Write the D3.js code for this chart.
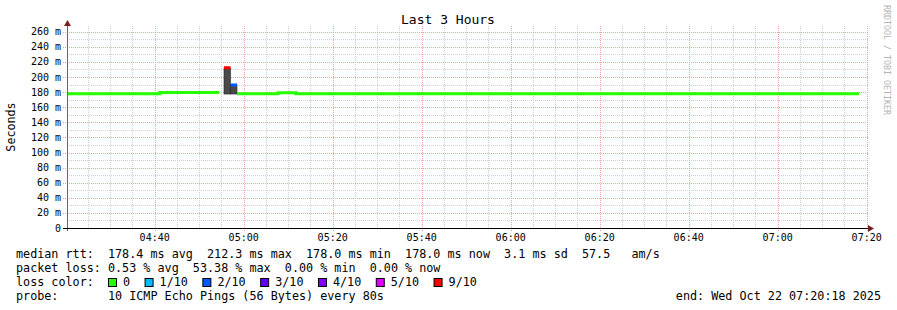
<!DOCTYPE html>
<html>
<head>
<meta charset="utf-8">
<script src="https://cdn.jsdelivr.net/npm/d3@7"></script>
<style>
body { margin: 0; background: #fff; }
svg text { font-family: "DejaVu Sans Mono", monospace; white-space: pre; fill: #000; }
</style>
</head>
<body>
<script>
// --- data ---
const day = "2025-10-22 ";
const timeStart = "04:20:18";
const timeEnd = "07:20:18";
// step boundaries (each step runs until the next one)
const stepStart = ["04:20:18", "04:41:12", "04:54:27", "04:55:35", "04:57:02", "04:58:30", "05:07:43", "05:11:46", "07:18:16"];
const medianMs  = [178.0, 179.5, null, 212.3, 189.5, 178.0, 179.3, 178.0];
const lossPings = [0, 0, null, 9, 2, 0, 0, 0];
const smokeLo   = [null, null, null, 177.5, 177.5, null, null, null];
const smokeHi   = [null, null, null, 212.3, 189.5, null, null, null];

const lossLabels = ["0", "1/10", "2/10", "3/10", "4/10", "5/10", "9/10"];
const lossColors = ["#26ff00", "#00b8ff", "#0059ff", "#5e00ff", "#7e00ff", "#dd00ff", "#ff0000"];
const lossLevels = [0, 1, 2, 3, 4, 5, 9];

const legendLines = [
    "median rtt:  178.4 ms avg  212.3 ms max  178.0 ms min  178.0 ms now  3.1 ms sd  57.5   am/s",
    "packet loss: 0.53 % avg  53.38 % max  0.00 % min  0.00 % now"
];
const probeText = "probe:       10 ICMP Echo Pings (56 Bytes) every 80s";
const endText = "end: Wed Oct 22 07:20:18 2025";

const W = 897, H = 310;
const parse = d3.timeParse("%Y-%m-%d %H:%M:%S");
const t = s => parse(day + s);

const svg = d3.select("body").append("svg")
    .attr("width", W).attr("height", H)
    .style("display", "block");

svg.append("rect").attr("width", W).attr("height", H).attr("fill", "#fff");

// scales
const x = d3.scaleTime().domain([t(timeStart), t(timeEnd)]).range([67, 868]);
const y = d3.scaleLinear().domain([0, 267.6]).range([228, 26]);

const plotTop = 26, plotBottom = 228;

// grid
const grid = svg.append("g").attr("shape-rendering", "crispEdges");
const minorY = d3.range(10, 268, 20);
const majorY = d3.range(20, 268, 20);
grid.selectAll(".hmin").data(minorY).enter().append("line")
    .attr("x1", 67).attr("x2", 868)
    .attr("y1", d => Math.round(y(d)) + 0.5).attr("y2", d => Math.round(y(d)) + 0.5)
    .attr("stroke", "#cfcfcf").attr("stroke-dasharray", "1,1");

const minorX = d3.timeMinute.every(5).range(t(timeStart), t(timeEnd)).filter(d => d.getMinutes() % 20 !== 0);
const majorX = d3.timeMinute.every(20).range(t(timeStart), t(timeEnd));
grid.selectAll(".vmin").data(minorX).enter().append("line")
    .attr("x1", d => Math.round(x(d)) + 0.5).attr("x2", d => Math.round(x(d)) + 0.5)
    .attr("y1", plotTop).attr("y2", plotBottom + 2)
    .attr("stroke", "#cfcfcf").attr("stroke-dasharray", "1,1");

grid.selectAll(".hmaj").data(majorY).enter().append("line")
    .attr("x1", 63).attr("x2", 868)
    .attr("y1", d => Math.round(y(d)) + 0.5).attr("y2", d => Math.round(y(d)) + 0.5)
    .attr("stroke", "#f2a0a0").attr("stroke-dasharray", "1,1");
grid.selectAll(".vmaj").data(majorX).enter().append("line")
    .attr("x1", d => Math.round(x(d)) + 0.5).attr("x2", d => Math.round(x(d)) + 0.5)
    .attr("y1", plotTop).attr("y2", plotBottom + 3)
    .attr("stroke", "#f2a0a0").attr("stroke-dasharray", "1,1");

// steps
const steps = medianMs.map((m, i) => ({
    x0: t(stepStart[i]), x1: t(stepStart[i + 1]),
    median: m, loss: lossPings[i], lo: smokeLo[i], hi: smokeHi[i]
}));

// smoke
svg.append("g").selectAll("rect")
    .data(steps.filter(d => d.lo != null))
    .enter().append("rect")
    .attr("x", d => x(d.x0)).attr("width", d => x(d.x1) - x(d.x0))
    .attr("y", d => y(d.hi)).attr("height", d => y(d.lo) - y(d.hi))
    .attr("fill", "#4a4a4a")
    .attr("stroke", "#222").attr("stroke-width", 0.6);

// median line, coloured by loss, broken where the loss colour changes
function lossColor(l) {
    let c = lossColors[0];
    lossLevels.forEach((v, i) => { if (l >= v) c = lossColors[i]; });
    return c;
}
const runs = [];
steps.forEach(d => {
    if (d.median == null) { runs.push(null); return; }
    const last = runs[runs.length - 1];
    if (last && last.loss === d.loss) last.pts.push(d);
    else runs.push({ loss: d.loss, pts: [d] });
});
const medLine = d3.line().curve(d3.curveStepAfter).x(d => x(d[0])).y(d => y(d[1]));
svg.append("g").selectAll("path")
    .data(runs.filter(r => r))
    .enter().append("path")
    .attr("d", r => {
        const pts = r.pts.map(d => [d.x0, d.median]);
        const lastPt = r.pts[r.pts.length - 1];
        pts.push([lastPt.x1, lastPt.median]);
        return medLine(pts);
    })
    .attr("fill", "none")
    .attr("stroke", r => lossColor(r.loss))
    .attr("stroke-width", 3);

// axes
svg.append("line").attr("x1", 67.5).attr("x2", 67.5).attr("y1", 231).attr("y2", 24)
    .attr("stroke", "#666");
svg.append("line").attr("x1", 63).attr("x2", 870).attr("y1", 228.5).attr("y2", 228.5)
    .attr("stroke", "#000");
svg.append("path").attr("d", "M64,26L71,26L67.5,20Z").attr("fill", "#7a1f1f");
svg.append("path").attr("d", "M868,225L868,232L874,228.5Z").attr("fill", "#7a1f1f");

// y tick labels
svg.append("g").selectAll("text")
    .data(d3.range(0, 261, 20))
    .enter().append("text")
    .attr("x", 61).attr("y", d => y(d) + 3.5)
    .attr("text-anchor", "end")
    .style("font-size", "10px")
    .text(d => d === 0 ? "0" : d + " m");

// x tick labels
svg.append("g").selectAll("text")
    .data(majorX)
    .enter().append("text")
    .attr("x", d => x(d)).attr("y", 241)
    .attr("text-anchor", "middle")
    .style("font-size", "10px")
    .text(d3.timeFormat("%H:%M"));

// title and axis label
svg.append("text").attr("x", 448).attr("y", 24).attr("text-anchor", "middle")
    .style("font-size", "13px").text("Last 3 Hours");
svg.append("text").attr("transform", "translate(15,127) rotate(-90)")
    .attr("text-anchor", "middle").style("font-size", "11.7px").text("Seconds");
svg.append("text").attr("transform", "translate(884,5) rotate(90)")
    .style("font-size", "8.3px").style("fill", "#b4b4b4")
    .text("RRDTOOL / TOBI OETIKER");

// legend
const lg = svg.append("g").style("font-size", "11.76px");
legendLines.forEach((s, i) => {
    lg.append("text").attr("x", 16).attr("y", 258 + i * 14).text(s);
});
lg.append("text").attr("x", 16).attr("y", 286).text("loss color:");
let lx = 108;
lossLabels.forEach((lab, i) => {
    lg.append("rect").attr("x", lx + 0.5).attr("y", 278.5).attr("width", 8).attr("height", 8)
        .attr("fill", lossColors[i]).attr("stroke", "#000");
    const tx = lg.append("text").attr("x", lx + 15).attr("y", 286).text(lab);
    lx = lx + 15 + tx.node().getComputedTextLength() + 14.5;
});
lg.append("text").attr("x", 16).attr("y", 300).text(probeText);
lg.append("text").attr("x", 881).attr("y", 300).attr("text-anchor", "end").text(endText);
</script>
</body>
</html>
